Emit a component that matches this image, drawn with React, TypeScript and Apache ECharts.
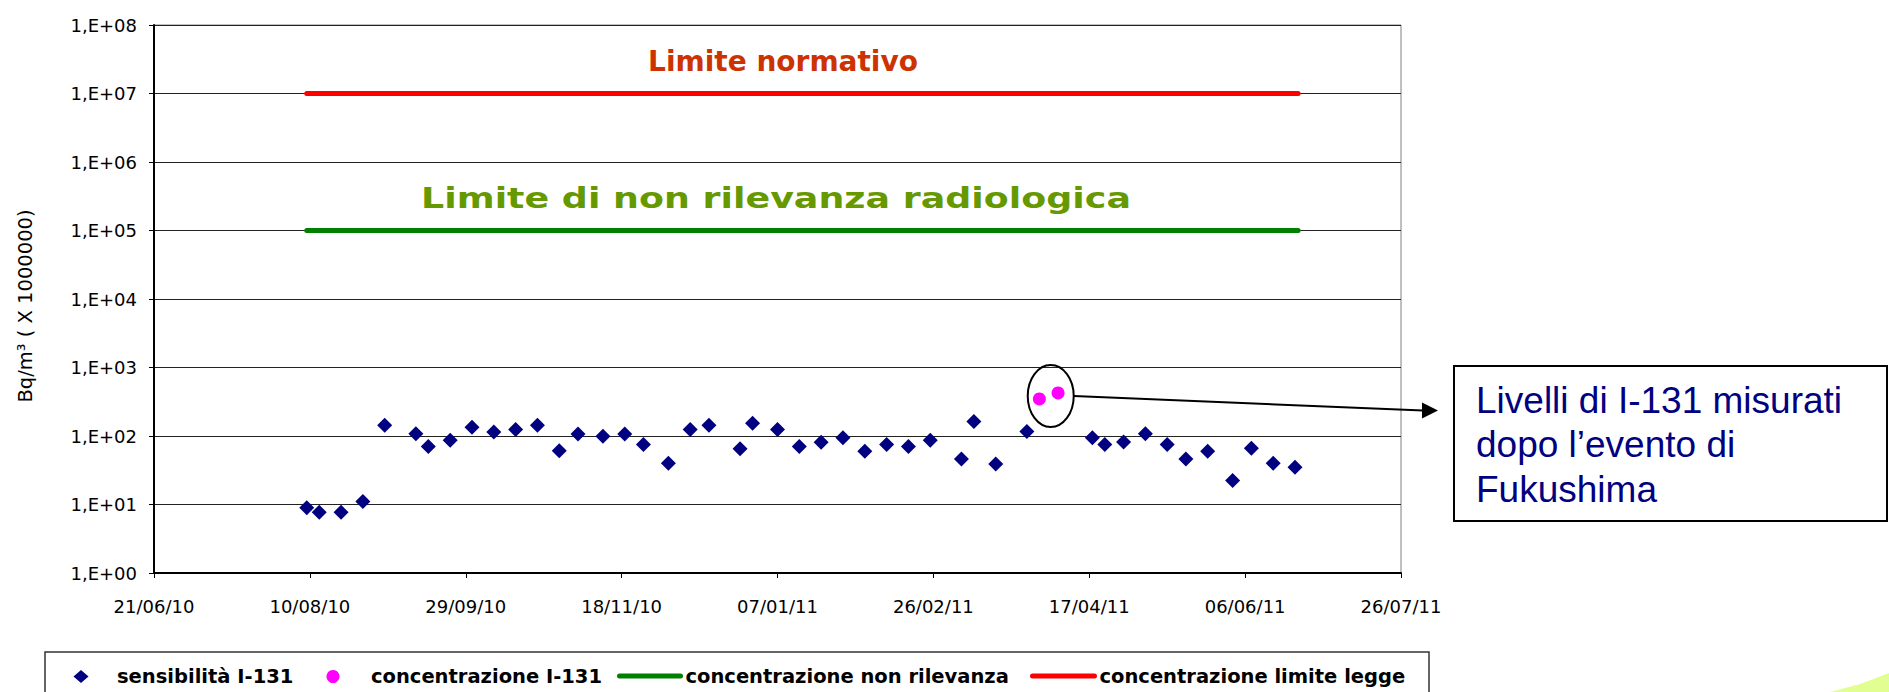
import React, { useEffect, useRef } from "react";
import * as echarts from "echarts";

// ---- data ----
const sensDates = [
  "2010-08-09", "2010-08-13", "2010-08-20", "2010-08-27", "2010-09-03",
  "2010-09-13", "2010-09-17", "2010-09-24", "2010-10-01", "2010-10-08",
  "2010-10-15", "2010-10-22", "2010-10-29", "2010-11-04", "2010-11-12",
  "2010-11-19", "2010-11-25", "2010-12-03", "2010-12-10", "2010-12-16",
  "2010-12-26", "2010-12-30", "2011-01-07", "2011-01-14", "2011-01-21",
  "2011-01-28", "2011-02-04", "2011-02-11", "2011-02-18", "2011-02-25",
  "2011-03-07", "2011-03-11", "2011-03-18", "2011-03-28", "2011-04-18",
  "2011-04-22", "2011-04-28", "2011-05-05", "2011-05-12", "2011-05-18",
  "2011-05-25", "2011-06-02", "2011-06-08", "2011-06-15", "2011-06-22",
];
const sensValues = [
  9.0, 7.7, 7.7, 11.1, 143,
  108, 70, 87, 134, 114,
  124, 143, 61, 107, 99,
  107, 75, 40, 124, 143,
  65, 153, 124, 70, 81,
  94, 60, 75, 70, 87,
  46, 163, 39, 116, 94,
  75, 82, 108, 75, 46,
  60, 22.5, 66, 40, 35,
];
const concDates = ["2011-04-01", "2011-04-07"];
const concValues = [347, 425];
const limitDates = ["2010-08-09", "2011-06-23"];
const nonRilevanzaValues = [1e5, 1e5];
const limiteLeggeValues = [1e7, 1e7];

const X_ORIGIN = "2010-06-21";
const X_TICK_DAYS = 50;
const X_SPAN_DAYS = 400;
const Y_MIN = 1;
const Y_MAX = 1e8;

const seriesNames = [
  "sensibilità I-131",
  "concentrazione I-131",
  "concentrazione non rilevanza",
  "concentrazione limite legge",
];
const titleNormativo = "Limite normativo";
const titleRilevanza = "Limite di non rilevanza radiologica";
const yAxisName = "Bq/m³ ( X 1000000)";
const noteLines = ["Livelli di I-131 misurati", "dopo l’evento di", "Fukushima"];

const DAY = 86400000;
function utc(s: string) {
  const [y, m, d] = s.split("-").map(Number);
  return Date.UTC(y, m - 1, d);
}
function dayOffset(s: string) {
  return Math.round((utc(s) - utc(X_ORIGIN)) / DAY);
}
function fmtDay(n: number) {
  const t = new Date(utc(X_ORIGIN) + n * DAY);
  const dd = String(t.getUTCDate()).padStart(2, "0");
  const mm = String(t.getUTCMonth() + 1).padStart(2, "0");
  const yy = String(t.getUTCFullYear() % 100).padStart(2, "0");
  return `${dd}/${mm}/${yy}`;
}
function fmtLog(v: number) {
  const e = Math.round(Math.log10(v));
  return `1,E+${String(e).padStart(2, "0")}`;
}

const FONT = "DejaVu Sans";

export default function App() {
  const ref = useRef<HTMLDivElement>(null);
  useEffect(() => {
    if (!ref.current) return;
    const chart = echarts.init(ref.current, undefined, { renderer: "svg" });
    const legendText = (padLeft: number) => ({
      fontFamily: FONT,
      fontWeight: "bold" as const,
      fontSize: 19.5,
      color: "#000",
      padding: [0, 0, 0, padLeft],
    });
    const hiddenMarker = { color: "rgba(0,0,0,0)", borderWidth: 0, opacity: 0 };
    const option: any = {
      animation: false,
      backgroundColor: "#fff",
      grid: {
        left: 154,
        top: 25,
        right: 488,
        bottom: 119,
        show: true,
        borderColor: "#808080",
        borderWidth: 1,
      },
      xAxis: {
        type: "value",
        min: 0,
        max: X_SPAN_DAYS,
        interval: X_TICK_DAYS,
        axisLine: { show: true, lineStyle: { color: "#000", width: 2 } },
        axisTick: { show: true, length: 5, lineStyle: { color: "#000" } },
        splitLine: { show: false },
        axisLabel: {
          formatter: (v: number) => fmtDay(v),
          margin: 24,
          fontFamily: FONT,
          fontSize: 18,
          color: "#000",
          showMaxLabel: true,
          showMinLabel: true,
        },
      },
      yAxis: {
        type: "log",
        logBase: 10,
        min: Y_MIN,
        max: Y_MAX,
        splitNumber: 8,
        axisLine: { show: true, lineStyle: { color: "#000", width: 2 } },
        axisTick: { show: true, length: 5, lineStyle: { color: "#000" } },
        splitLine: { show: true, lineStyle: { color: "#222", width: 1 } },
        axisLabel: {
          formatter: (v: number) => fmtLog(v),
          margin: 17,
          fontFamily: FONT,
          fontSize: 18,
          color: "#000",
        },
      },
      legend: [
        {
          data: [seriesNames[0]],
          left: 73.5, top: 666.5, padding: 0,
          itemWidth: 15, itemHeight: 13,
          textStyle: legendText(23.5),
        },
        {
          data: [seriesNames[1]],
          left: 326.5, top: 666.5, padding: 0,
          itemWidth: 13, itemHeight: 13,
          textStyle: legendText(26.5),
        },
        {
          data: [seriesNames[2]],
          left: 617, top: 666, padding: 0,
          itemWidth: 61, itemHeight: 14,
          lineStyle: { width: 5, cap: "round" },
          itemStyle: hiddenMarker,
          textStyle: legendText(0),
        },
        {
          data: [seriesNames[3]],
          left: 1030, top: 666, padding: 0,
          itemWidth: 62, itemHeight: 14,
          lineStyle: { width: 5, cap: "round" },
          itemStyle: hiddenMarker,
          textStyle: legendText(0),
        },
      ],
      series: [
        {
          name: seriesNames[0],
          type: "scatter",
          symbol: "diamond",
          symbolSize: [15, 15],
          itemStyle: { color: "#000080", opacity: 1 },
          data: sensDates.map((d, i) => [dayOffset(d), sensValues[i]]),
          z: 5,
        },
        {
          name: seriesNames[1],
          type: "scatter",
          symbol: "circle",
          symbolSize: 13,
          itemStyle: { color: "#FF00FF", opacity: 1 },
          data: concDates.map((d, i) => [dayOffset(d), concValues[i]]),
          z: 5,
        },
        {
          name: seriesNames[2],
          type: "line",
          symbol: "none",
          itemStyle: { color: "#008000" },
          lineStyle: { color: "#008000", width: 5, cap: "round" },
          data: limitDates.map((d, i) => [dayOffset(d), nonRilevanzaValues[i]]),
          z: 4,
        },
        {
          name: seriesNames[3],
          type: "line",
          symbol: "none",
          itemStyle: { color: "#FF0000" },
          lineStyle: { color: "#FF0000", width: 5, cap: "round" },
          data: limitDates.map((d, i) => [dayOffset(d), limiteLeggeValues[i]]),
          z: 4,
        },
      ],
    };
    chart.setOption(option);

    // annotation positioned around the concentration points
    const pts = concDates.map((d, i) =>
      chart.convertToPixel({ seriesIndex: 1 }, [dayOffset(d), concValues[i]]) as number[]
    );
    const cx = (pts[0][0] + pts[1][0]) / 2 + 2;
    const cy = (pts[0][1] + pts[1][1]) / 2;
    const rx = 23;
    const ry = 31;
    const tipX = 1438;
    const tipY = 410.5;

    chart.setOption({
      graphic: [
        {
          type: "text",
          x: 783, y: 61.5,
          style: {
            text: titleNormativo, align: "center", verticalAlign: "middle",
            font: `bold 28px "${FONT}"`, fill: "#CC3300",
          },
        },
        {
          type: "text",
          x: 776, y: 198.5,
          scaleX: 1.3,
          style: {
            text: titleRilevanza, align: "center", verticalAlign: "middle",
            font: `bold 28px "${FONT}"`, fill: "#669900",
          },
        },
        {
          type: "text",
          x: 25, y: 306,
          rotation: Math.PI / 2,
          style: {
            text: yAxisName, align: "center", verticalAlign: "middle",
            font: `19.5px "${FONT}"`, fill: "#000",
          },
        },
        {
          type: "ellipse",
          shape: { cx, cy, rx, ry },
          style: { fill: "none", stroke: "#000", lineWidth: 2 },
          z: 10,
        },
        {
          type: "line",
          shape: { x1: cx + rx, y1: cy, x2: tipX - 15, y2: tipY },
          style: { stroke: "#000", lineWidth: 2 },
          z: 10,
        },
        {
          type: "polygon",
          shape: { points: [[tipX, tipY], [tipX - 16, tipY - 8], [tipX - 16, tipY + 8]] },
          style: { fill: "#000" },
          z: 10,
        },
        {
          type: "rect",
          shape: { x: 1454, y: 366, width: 433, height: 155 },
          style: { fill: "#fff", stroke: "#000", lineWidth: 2 },
          z: 10,
        },
        ...noteLines.map((t, i) => ({
          type: "text",
          x: 1476,
          y: 400 + i * 44.5,
          style: {
            text: t, verticalAlign: "middle",
            font: `37px "Liberation Sans", Arial`, fill: "#000080",
          },
          z: 11,
        })),
        {
          type: "rect",
          shape: { x: 45, y: 652, width: 1384, height: 60 },
          style: { fill: "none", stroke: "#333", lineWidth: 1.5 },
          z: 0,
        },
        {
          type: "polygon",
          shape: { points: [[1830, 692], [1860, 684], [1889, 673], [1889, 692]] },
          style: { fill: "#E0FF90" },
          z: 0,
        },
      ],
    });

    return () => chart.dispose();
  }, []);
  return (
    <div
      ref={ref}
      style={{ position: "absolute", left: 0, top: 0, width: 1889, height: 692 }}
    />
  );
}
